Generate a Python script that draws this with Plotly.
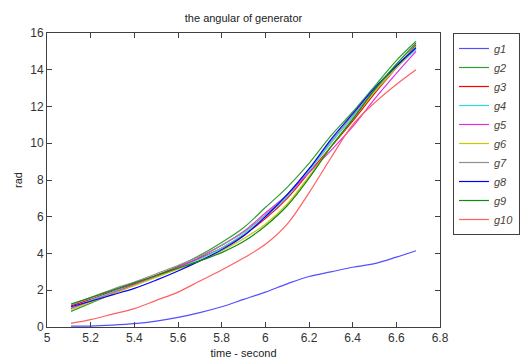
import plotly.graph_objects as go

time = [5.11, 5.2, 5.3, 5.4, 5.5, 5.6, 5.7, 5.8, 5.9, 6.0, 6.1, 6.2, 6.3, 6.4, 6.5, 6.6, 6.69]

g1 = [0.05, 0.05, 0.1, 0.18, 0.32, 0.52, 0.78, 1.1, 1.5, 1.9, 2.35, 2.75, 3.0, 3.25, 3.45, 3.8, 4.15]
g2 = [0.85, 1.3, 1.8, 2.3, 2.8, 3.3, 3.9, 4.6, 5.4, 6.5, 7.6, 8.9, 10.4, 11.7, 13.1, 14.5, 15.55]
g3 = [1.15, 1.5, 1.95, 2.35, 2.8, 3.25, 3.75, 4.3, 5.0, 5.9, 7.0, 8.4, 9.8, 11.2, 12.7, 14.1, 15.35]
g4 = [1.0, 1.45, 1.9, 2.3, 2.75, 3.2, 3.7, 4.3, 5.05, 6.0, 7.1, 8.5, 10.0, 11.4, 12.8, 14.1, 15.1]
g5 = [1.0, 1.4, 1.85, 2.3, 2.75, 3.25, 3.8, 4.45, 5.2, 6.2, 7.2, 8.4, 9.6, 10.9, 12.4, 13.8, 15.0]
g6 = [0.95, 1.35, 1.8, 2.25, 2.7, 3.15, 3.6, 4.15, 4.8, 5.6, 6.7, 8.2, 9.8, 11.3, 12.8, 14.1, 15.2]
g7 = [1.2, 1.6, 2.05, 2.45, 2.9, 3.35, 3.85, 4.45, 5.15, 6.1, 7.2, 8.6, 10.1, 11.5, 12.9, 14.2, 15.3]
g8 = [1.1, 1.4, 1.75, 2.1, 2.55, 3.05, 3.6, 4.2, 4.95, 6.0, 7.2, 8.6, 10.2, 11.6, 13.0, 14.2, 15.2]
g9 = [1.25, 1.6, 2.0, 2.4, 2.8, 3.2, 3.6, 4.05, 4.65, 5.5, 6.6, 8.1, 9.8, 11.3, 12.9, 14.3, 15.45]
g10 = [0.2, 0.4, 0.7, 1.0, 1.45, 1.9, 2.5, 3.1, 3.75, 4.5, 5.6, 7.3, 9.2, 11.0, 12.2, 13.2, 14.0]

names = ["g1", "g2", "g3", "g4", "g5", "g6", "g7", "g8", "g9", "g10"]
series = [g1, g2, g3, g4, g5, g6, g7, g8, g9, g10]
colors = ["#5050ff", "#30a030", "#ff0000", "#30d8d8", "#e030e0",
          "#c8c800", "#909090", "#0000ff", "#108a10", "#ff6060"]

fig = go.Figure()
for n, s, c in zip(names, series, colors):
    fig.add_trace(go.Scatter(x=time, y=s, mode="lines", name=n,
                             line=dict(color=c, width=1.2, shape="spline")))

axis_common = dict(showline=True, linecolor="#404040", linewidth=1, mirror="ticks",
                   ticks="inside", ticklen=5, tickcolor="#404040", showgrid=False,
                   zeroline=False, automargin=False,
                   tickfont=dict(family="Liberation Sans, Arial", size=12, color="#333333"))

fig.update_layout(
    width=520, height=360,
    margin=dict(l=47, r=80, t=33, b=33, autoexpand=False),
    paper_bgcolor="white", plot_bgcolor="white",
    title=dict(text="the angular of generator", x=0.5, xref="paper",
               y=0.95, yref="container", yanchor="middle", automargin=False,
               font=dict(family="Liberation Sans, Arial", size=11, color="#222222")),
    xaxis=dict(range=[5, 6.8], dtick=0.2, tick0=5,
               title=dict(text="time - second", standoff=4,
                          font=dict(family="Liberation Sans, Arial", size=11, color="#222222")),
               **axis_common),
    yaxis=dict(range=[0, 16], dtick=2, tick0=0,
               title=dict(text="rad", standoff=5,
                          font=dict(family="Liberation Sans, Arial", size=11, color="#222222")),
               **axis_common),
    legend=dict(x=1.033, y=1, xanchor="left", yanchor="top",
                bordercolor="#404040", borderwidth=1, bgcolor="white",
                font=dict(family="Liberation Sans, Arial", size=11, color="#4a3f35", style="italic"),
                tracegroupgap=0, itemwidth=30),
    showlegend=True,
)

fig.write_html("out.html", config={"displayModeBar": False},
               post_script="document.body.style.margin='0';")
